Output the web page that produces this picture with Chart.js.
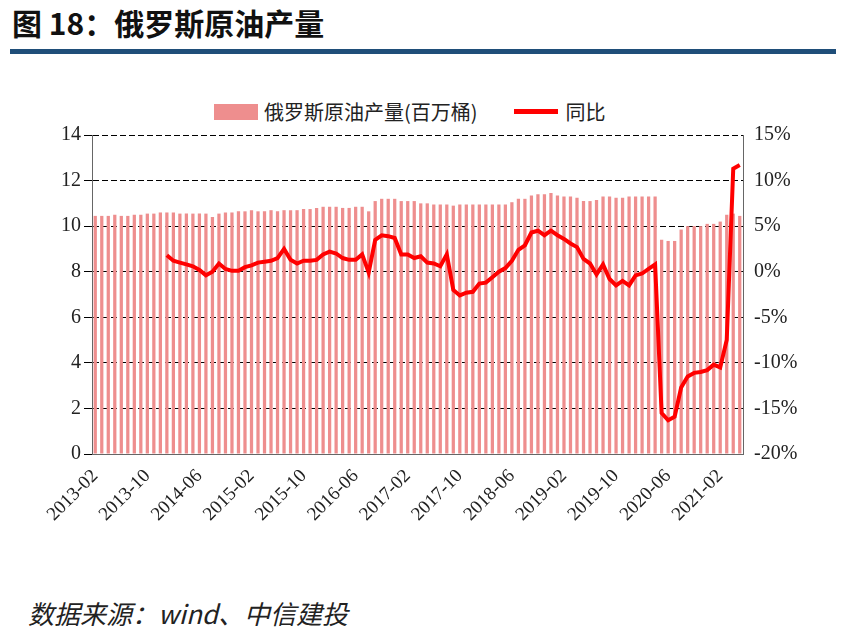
<!DOCTYPE html>
<html><head><meta charset="utf-8">
<script src="https://cdn.jsdelivr.net/npm/chart.js@4/dist/chart.umd.min.js"></script>
<style>
body{margin:0;width:845px;height:637px;background:#fff;position:relative;font-family:"Noto Sans CJK SC","Noto Sans",sans-serif;overflow:hidden}
#title{position:absolute;left:12px;top:0px;font-size:30px;font-weight:bold;color:#111}
#rule{position:absolute;left:10px;top:49px;width:826px;height:5px;background:#1f4e79}
#src{position:absolute;left:28px;top:594px;font-size:26px;font-style:italic;color:#222}
#legend{position:absolute;top:97px;left:214px;font-size:20px;color:#222;display:flex;align-items:center}
.sw{display:inline-block;width:44px;height:16px;background:#EE8E8E;margin-right:6px}
.ln{display:inline-block;width:44px;height:5px;background:#f00;margin:0 8px 0 36px}
#wrap{position:absolute;left:0;top:120px;width:845px;height:424px}
</style></head><body>
<div id="title">图 18：俄罗斯原油产量</div>
<div id="rule"></div>
<div id="legend"><span class="sw"></span>俄罗斯原油产量(百万桶)<span class="ln"></span>同比</div>
<div id="wrap"><canvas id="c"></canvas></div>
<div id="src">数据来源：wind、中信建投</div>
<script>
const startYear = 2013, startMonth = 2, nMonths = 100;
const categories = [];
for (let i = 0; i < nMonths; i++) { const m = startMonth - 1 + i; categories.push((startYear + Math.floor(m/12)) + '-' + String(m%12+1).padStart(2,'0')); }
const production = [
10.45,10.45,10.45,10.5,10.45,10.45,10.5,10.5,10.55,10.55,10.6,
10.6,10.6,10.55,10.55,10.55,10.55,10.55,10.4,10.55,10.6,10.6,10.65,
10.65,10.7,10.65,10.65,10.7,10.65,10.7,10.7,10.7,10.75,10.75,10.8,
10.85,10.85,10.85,10.8,10.8,10.85,10.85,10.65,11.1,11.2,11.2,11.2,
11.1,11.1,11.1,11.0,11.0,10.95,10.95,10.95,10.9,10.95,10.95,10.95,
10.95,10.95,10.95,10.95,10.95,11.05,11.2,11.2,11.35,11.4,11.4,11.45,
11.35,11.3,11.3,11.25,11.1,11.1,11.15,11.3,11.3,11.25,11.25,11.3,
11.3,11.3,11.3,11.3,9.4,9.35,9.35,9.85,10.0,10.0,10.0,10.1,
10.1,10.2,10.5,10.55,10.45];
const yoy = [null,null,null,null,null,null,null,null,null,null,null,
1.8,1.2,1.0,0.8,0.6,0.2,-0.4,0.0,0.9,0.3,0.1,0.1,
0.5,0.7,1.0,1.1,1.2,1.5,2.5,1.3,0.9,1.2,1.2,1.3,
1.9,2.2,2.0,1.5,1.3,1.3,1.9,-0.1,3.5,4.0,3.9,3.7,
1.9,1.9,1.5,1.7,1.0,0.9,0.6,1.9,-2.0,-2.6,-2.3,-2.2,
-1.3,-1.2,-0.6,0.0,0.4,1.2,2.4,2.9,4.3,4.5,4.0,4.5,
4.0,3.6,3.1,2.7,1.4,0.9,-0.3,0.8,-0.8,-1.5,-1.0,-1.5,
-0.4,-0.2,0.3,0.8,-15.5,-16.3,-15.9,-12.7,-11.5,-11.1,-11.0,-10.8,
-10.2,-10.5,-7.5,11.3,11.7];
const font = {family:'"Times New Roman","Liberation Serif",serif', size:20};
new Chart(document.getElementById('c'), {
  data:{labels:categories, datasets:[
    {type:'line', data:yoy, yAxisID:'y2', borderColor:'#f00', borderWidth:4, pointRadius:0, tension:0, order:0},
    {type:'bar', data:production, yAxisID:'y', backgroundColor:'#EE8E8E', categoryPercentage:1, barPercentage:0.5, order:1}
  ]},
  options:{responsive:true, maintainAspectRatio:false, animation:false,
    layout:{padding:{top:10}},
    plugins:{legend:{display:false}, tooltip:{enabled:false}},
    scales:{
      x:{grid:{display:false}, border:{color:'#666'}, afterFit(s){s.height=90;},
         ticks:{autoSkip:false, maxRotation:45, minRotation:45, color:'#222', font:{...font,size:19},
           callback(v,i){return i%8===0?categories[i]:'';}}},
      y:{position:'left', min:0, max:14, afterFit(s){s.width=92;},
         grid:{color:'#000', lineWidth:1}, border:{color:'#666', dash:[6,3]},
         ticks:{stepSize:2, color:'#222', font}},
      y2:{position:'right', min:-20, max:15, afterFit(s){s.width=102;},
         grid:{display:false}, border:{color:'#666'},
         ticks:{stepSize:5, color:'#222', font, callback:v=>v+'%'}}
    }}
});
</script></body></html>
